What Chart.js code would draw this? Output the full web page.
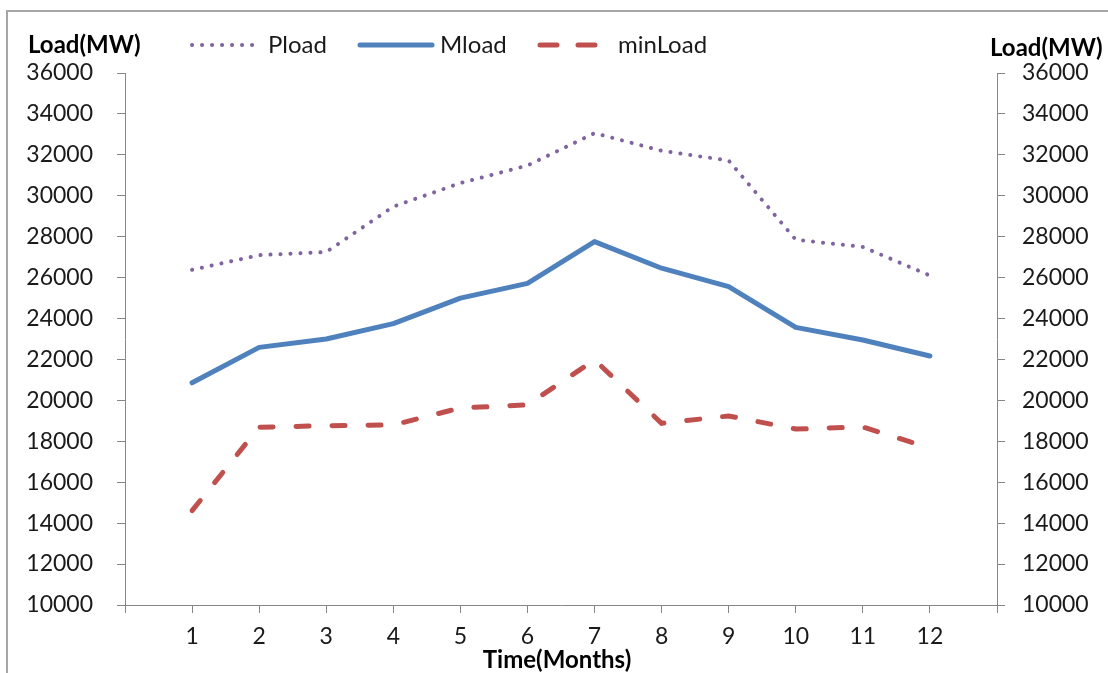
<!DOCTYPE html>
<html>
<head>
<meta charset="utf-8">
<script src="https://cdn.jsdelivr.net/npm/chart.js@4/dist/chart.umd.min.js"></script>
<style>
  body { margin: 0; background: #fff; }
  canvas { display: block; }
</style>
</head>
<body>
<canvas id="myChart" width="1108" height="673"></canvas>
<script>
//Data
const months = [1, 2, 3, 4, 5, 6, 7, 8, 9, 10, 11, 12];
const pload = [26380, 27100, 27250, 29470, 30620, 31480, 33060, 32200, 31720, 27850, 27500, 26100];
const mload = [20860, 22590, 23000, 23750, 25000, 25720, 27760, 26460, 25560, 23570, 22950, 22170];
const minLoad = [14610, 18690, 18760, 18800, 19630, 19780, 21980, 18880, 19240, 18600, 18700, 17670];
const yTicks = [10000, 12000, 14000, 16000, 18000, 20000, 22000, 24000, 26000, 28000, 30000, 32000, 34000, 36000];

const FONT = 'Lato, "Open Sans", sans-serif';
const axisGray = "#868686";

const toPoints = (vals) => months.map((m, i) => ({ x: m, y: vals[i] }));

//Frame, titles and legend drawn on top
const decor = {
  id: "decor",
  beforeDraw(chart) {
    const c = chart.ctx;
    c.save();
    c.strokeStyle = "#a6a6a6";
    c.lineWidth = 2;
    c.strokeRect(7, 11, 1200, 800);
    c.restore();
  },
  afterDraw(chart) {
    const c = chart.ctx;
    c.save();
    c.fillStyle = "#000";
    c.textBaseline = "middle";
    c.font = `bold 24px ${FONT}`;
    c.textAlign = "left";
    c.fillText("Load(MW)", 28, 45);
    c.fillText("Load(MW)", 990, 48);
    c.textAlign = "center";
    c.fillText("Time(Months)", 557, 660);

    //legend
    const items = [
      { x1: 192, x2: 258, tx: 268 },
      { x1: 360, x2: 432, tx: 440 },
      { x1: 540, x2: 600, tx: 618 },
    ];
    c.font = `24px ${FONT}`;
    c.textAlign = "left";
    chart.data.datasets.forEach((ds, i) => {
      const it = items[i];
      c.beginPath();
      c.strokeStyle = ds.borderColor;
      c.lineWidth = ds.borderWidth;
      c.lineCap = "round";
      c.setLineDash(ds.legendDash || ds.borderDash || []);
      c.moveTo(it.x1, 45);
      c.lineTo(it.x2, 45);
      c.stroke();
      c.setLineDash([]);
      c.fillStyle = "#1a1a1a";
      c.fillText(ds.label, it.tx, 45);
    });
    c.restore();
  },
};

const ctx = document.getElementById("myChart").getContext("2d");

const config = {
  type: "line",
  data: {
    datasets: [
      {
        label: "Pload",
        data: toPoints(pload),
        borderColor: "#8064A2",
        borderWidth: 4,
        borderDash: [0.1, 9.9],
        legendDash: [0.1, 9.9],
        borderCapStyle: "round",
        pointRadius: 0,
        tension: 0,
      },
      {
        label: "Mload",
        data: toPoints(mload),
        borderColor: "#4F81BD",
        borderWidth: 5,
        borderCapStyle: "round",
        borderJoinStyle: "round",
        pointRadius: 0,
        tension: 0,
      },
      {
        label: "minLoad",
        data: toPoints(minLoad),
        borderColor: "#C0504D",
        borderWidth: 5,
        borderDash: [13, 23],
        legendDash: [17, 21],
        borderCapStyle: "round",
        pointRadius: 0,
        tension: 0,
      },
    ],
  },
  options: {
    responsive: false,
    animation: false,
    devicePixelRatio: 1,
    layout: { padding: { top: 73, left: 0, right: 0, bottom: 0 } },
    plugins: {
      legend: { display: false },
      tooltip: { enabled: false },
    },
    scales: {
      x: {
        type: "linear",
        min: 0,
        max: 13,
        afterBuildTicks: (s) => {
          s.ticks = [0, ...months, 13].map((v) => ({ value: v }));
        },
        afterFit: (s) => { s.height = 68; },
        ticks: {
          autoSkip: false,
          maxRotation: 0,
          padding: 10,
          color: "#1a1a1a",
          font: { family: FONT, size: 23 },
          callback: (v) => (v >= 1 && v <= 12 ? String(v) : ""),
        },
        grid: { drawOnChartArea: false, drawTicks: true, tickLength: 8, color: axisGray, lineWidth: 1 },
        border: { display: true, color: axisGray, width: 1 },
      },
      y: {
        type: "linear",
        position: "left",
        min: 10000,
        max: 36000,
        afterBuildTicks: (s) => { s.ticks = yTicks.map((v) => ({ value: v })); },
        afterFit: (s) => { s.width = 125; },
        ticks: {
          padding: 24,
          color: "#1a1a1a",
          font: { family: FONT, size: 23 },
          callback: (v) => String(v),
        },
        grid: { drawOnChartArea: false, drawTicks: true, tickLength: 8, color: axisGray },
        border: { display: true, color: axisGray, width: 1 },
      },
      y2: {
        type: "linear",
        position: "right",
        min: 10000,
        max: 36000,
        afterBuildTicks: (s) => { s.ticks = yTicks.map((v) => ({ value: v })); },
        afterFit: (s) => { s.width = 111; },
        ticks: {
          padding: 17,
          color: "#1a1a1a",
          font: { family: FONT, size: 23 },
          callback: (v) => String(v),
        },
        grid: { drawOnChartArea: false, drawTicks: true, tickLength: 8, color: axisGray },
        border: { display: true, color: axisGray, width: 1 },
      },
    },
  },
  plugins: [decor],
};

const myChart = new Chart(ctx, config);
</script>
</body>
</html>
